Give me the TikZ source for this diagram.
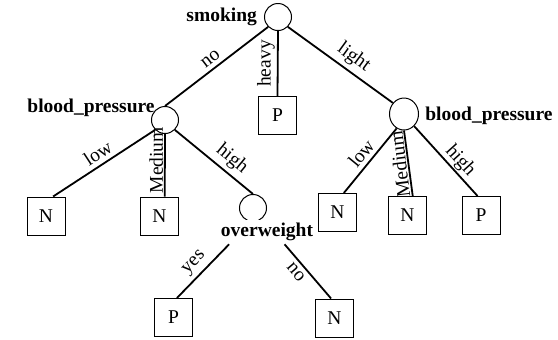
\documentclass[tikz,border=0pt]{standalone}
\usepackage{fontspec}
\setmainfont{Liberation Serif}
\usetikzlibrary{shapes.geometric}

\begin{document}
\begin{tikzpicture}[x=0.5pt,y=-0.5pt]

\tikzset{every node/.style = {font=\fontsize{9.75}{11}\selectfont}}
\tikzset{vertex/.style = {shape=circle,draw,line width=0.5pt,minimum size=13.5pt,inner sep=0pt}}
\tikzset{leaf/.style = {shape=rectangle,draw,line width=0.5pt,minimum size=19pt,inner sep=0pt}}
\tikzset{attr/.style = {font=\fontsize{9.75}{11}\selectfont\bfseries}}
\tikzset{edge/.style = {line width=0.9pt}}
\tikzset{val/.style = {inner sep=2pt}}

\useasboundingbox (0,0) rectangle (558,339);

%verticies
\node[vertex, label={[attr]left:smoking}] (smoking) at (278,17) {};
\node[vertex] (bp1) at (165,120) {};
\node[vertex, shape=ellipse, minimum width=14.5pt, minimum height=16pt] (bp2) at (404,114) {};
\node[vertex] (ow) at (253,208) {};
\node[attr, anchor=east, inner sep=0pt] (bp1label) at (155,108) {blood\_pressure};
\node[attr, anchor=west, inner sep=0pt] (bp2label) at (425,116) {blood\_pressure};
\node[attr, fill=white, inner sep=1.5pt] (owlabel) at (267,232) {overweight};

%leaves
\node[leaf] (p1) at (277.5,115.5) {P};
\node[leaf] (n1) at (46,216) {N};
\node[leaf] (n2) at (159.5,216) {N};
\node[leaf] (n3) at (337.5,212.5) {N};
\node[leaf] (n4) at (407.5,215.5) {N};
\node[leaf] (p3) at (481,215.5) {P};
\node[leaf] (p2) at (173.5,317.5) {P};
\node[leaf] (n5) at (334.5,318) {N};

%edges
\draw[edge] (smoking.225) -- node[val, midway, above, sloped] {no} (bp1.north);
\draw[edge] (smoking.south) -- node[val, midway, above, rotate=90, inner sep=1pt] {heavy} (p1.north);
\draw[edge] (smoking.-45) -- node[val, pos=0.55, above, sloped] {light} (bp2.135);
\draw[edge] (bp1.225) -- node[val, midway, above, sloped] {low} (n1.70);
\draw[edge] (bp1.south) -- node[val, pos=0.42, above, rotate=90, inner sep=0.5pt] {Medium} (n2.75);
\draw[edge] (bp1.-45) -- node[val, pos=0.62, above, sloped] {high} (ow.north);
\draw[edge] (owlabel.198) -- node[val, midway, above, sloped] {yes} (p2.80);
\draw[edge] (owlabel.-35) -- node[val, pos=0.4, below, sloped] {no} (n5.100);
\draw[edge] (bp2.243) -- node[val, midway, above, sloped] {low} (n3.72);
\draw[edge] (bp2.south) -- node[val, midway, above, rotate=97, inner sep=0.5pt] {Medium} (n4.75);
\draw[edge] (bp2.-50) -- node[val, pos=0.6, above, sloped, inner sep=0.5pt] {high} (p3.100);

\end{tikzpicture}
\end{document}
